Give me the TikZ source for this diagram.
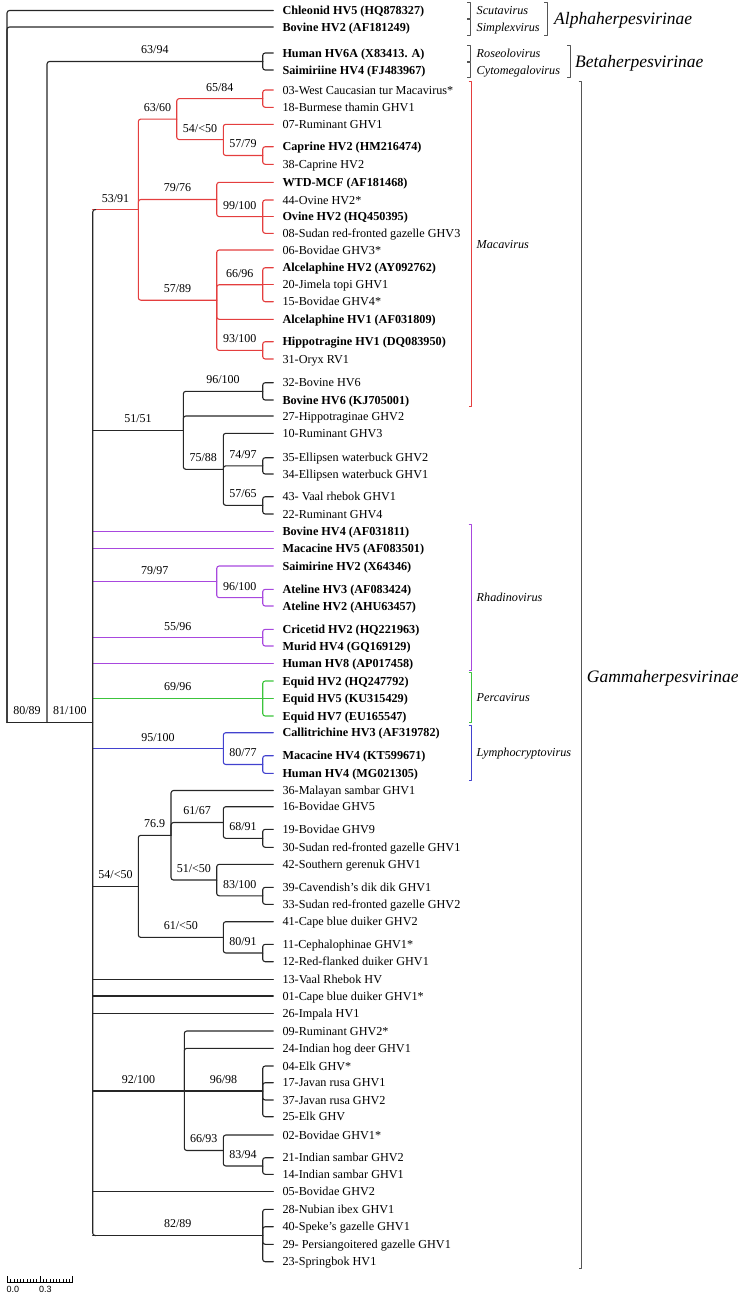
\documentclass[tikz,border=0pt]{standalone}
\usepackage{fontspec}
\setmainfont{Liberation Serif}
\setsansfont{Liberation Sans}
\usetikzlibrary{calc}
\tikzset{>=latex}
\definecolor{macred}{RGB}{228,62,62}
\definecolor{rhapurple}{RGB}{168,72,222}
\definecolor{pergreen}{RGB}{60,196,60}
\definecolor{lymblue}{RGB}{66,66,206}
\definecolor{brgray}{RGB}{85,85,85}
\tikzset{
  branch/.style={line width=1.1pt, rounded corners=2.5pt, line cap=round, black!85},
  taxon/.style={anchor=west, inner xsep=9pt, inner ysep=0pt, text height=8pt, text depth=0pt,
    font=\fontsize{12.2}{14}\selectfont},
  taxonb/.style={taxon, font=\fontsize{12.2}{14}\selectfont\bfseries},
  boot/.style={anchor=south, inner sep=0pt, text height=8pt, text depth=0pt, yshift=7pt,
    font=\fontsize{12}{14}\selectfont, black},
  genus/.style={anchor=west, inner sep=0pt, text height=8pt, text depth=0pt,
    font=\fontsize{12.2}{14}\selectfont\itshape},
  family/.style={anchor=west, inner sep=0pt, text height=12pt, text depth=0pt,
    font=\fontsize{17.5}{20}\selectfont\itshape},
}

\begin{document}
\begin{tikzpicture}[x=1pt, y=-1pt, line join=round]
    \useasboundingbox (0,0) rectangle (738,1304);

    \foreach \nm/\y/\txt in {chl/10.5/{Chleonid HV5 (HQ878327)}, bov2/27/{Bovine HV2 (AF181249)},
        hum6/53/{Human HV6A (X83413. A)}, sai4/70/{Saimiriine HV4 (FJ483967)},
        cap2/146.7/{Caprine HV2 (HM216474)}, wtd/182.3/{WTD-MCF (AF181468)},
        ovi2/216.6/{Ovine HV2 (HQ450395)}, alc2/267.7/{Alcelaphine HV2 (AY092762)},
        alc1/319.3/{Alcelaphine HV1 (AF031809)}, hip1/341.7/{Hippotragine HV1 (DQ083950)},
        bov6/400/{Bovine HV6 (KJ705001)}, bov4/531.7/{Bovine HV4 (AF031811)},
        mac5/548.3/{Macacine HV5 (AF083501)}, sai2/566/{Saimirine HV2 (X64346)},
        ate3/589.3/{Ateline HV3 (AF083424)}, ate2/606/{Ateline HV2 (AHU63457)},
        cri2/629.3/{Cricetid HV2 (HQ221963)}, mur4/646/{Murid HV4 (GQ169129)},
        hum8/663.3/{Human HV8 (AP017458)}, equ2/681/{Equid HV2 (HQ247792)},
        equ5/698.5/{Equid HV5 (KU315429)}, equ7/716/{Equid HV7 (EU165547)},
        cal3/732.7/{Callitrichine HV3 (AF319782)}, mac4/755.7/{Macacine HV4 (KT599671)},
        hum4/773.3/{Human HV4 (MG021305)}}{
        \node[taxonb] (\nm) at (273.3,\y) {\txt};
    }
    \foreach \nm/\y/\txt in {t03/90/{03-West Caucasian tur Macavirus*}, t18/107.3/{18-Burmese thamin GHV1},
        t07/124.3/{07-Ruminant GHV1}, t38/164.3/{38-Caprine HV2}, t44/200/{44-Ovine HV2*},
        t08/233.3/{08-Sudan red-fronted gazelle GHV3}, t06/250/{06-Bovidae GHV3*},
        t20/284.7/{20-Jimela topi GHV1}, t15/301.7/{15-Bovidae GHV4*}, t31/359/{31-Oryx RV1},
        t32/382.7/{32-Bovine HV6}, t27/416/{27-Hippotraginae GHV2}, t10/433.3/{10-Ruminant GHV3},
        t35/457.7/{35-Ellipsen waterbuck GHV2}, t34/474/{34-Ellipsen waterbuck GHV1},
        t43/496.7/{43- Vaal rhebok GHV1}, t22/514/{22-Ruminant GHV4},
        t36/790.5/{36-Malayan sambar GHV1}, t16/806.7/{16-Bovidae GHV5}, t19/829.3/{19-Bovidae GHV9},
        t30/847.3/{30-Sudan red-fronted gazelle GHV1}, t42/864.3/{42-Southern gerenuk GHV1},
        t39/887.3/{39-Cavendish's dik dik GHV1}, t33/904.3/{33-Sudan red-fronted gazelle GHV2},
        t41/921.7/{41-Cape blue duiker GHV2}, t11/944.3/{11-Cephalophinae GHV1*},
        t12/961.7/{12-Red-flanked duiker GHV1}, t13/979.3/{13-Vaal Rhebok HV},
        t01/996/{01-Cape blue duiker GHV1*}, t26/1013.3/{26-Impala HV1}, t09/1031/{09-Ruminant GHV2*},
        t24/1048.3/{24-Indian hog deer GHV1}, t04/1066/{04-Elk GHV*}, t17/1082.7/{17-Javan rusa GHV1},
        t37/1100/{37-Javan rusa GHV2}, t25/1116.7/{25-Elk GHV}, t02/1135/{02-Bovidae GHV1*},
        t21/1157.7/{21-Indian sambar GHV2}, t14/1174.3/{14-Indian sambar GHV1}, t05/1191.7/{05-Bovidae GHV2},
        t28/1209.3/{28-Nubian ibex GHV1}, t40/1226.7/{40-Speke's gazelle GHV1},
        t29/1244.3/{29- Persiangoitered gazelle GHV1}, t23/1261.7/{23-Springbok HV1}}{
        \node[taxon] (\nm) at (273.3,\y) {\txt};
    }

    \coordinate (root) at (7,722.5);
    \coordinate (n1) at (47,722.5);
    \coordinate (gam) at (92.7,722.5);
    \coordinate (beta) at (262.7,61.5);
    \coordinate (mac) at (138.3,209.6);
    \coordinate (n6360) at (176.7,119.1);
    \coordinate (n6584) at (262.7,98.65);
    \coordinate (n5450) at (223.3,139.6);
    \coordinate (n5779) at (262.7,155.5);
    \coordinate (n7976) at (216.7,199.5);
    \coordinate (n99100) at (262.7,216.6);
    \coordinate (n5789) at (216.7,300.2);
    \coordinate (n6696) at (262.7,284.7);
    \coordinate (n93100) at (262.7,350.35);
    \coordinate (n5151) at (183.3,430.3);
    \coordinate (n96100) at (262.7,391.35);
    \coordinate (n7588) at (223.3,469.3);
    \coordinate (n7497) at (262.7,465.85);
    \coordinate (n5765) at (262.7,505.35);
    \coordinate (n7997) at (216.7,581.8);
    \coordinate (n9610p) at (262.7,597.65);
    \coordinate (n5596) at (262.7,637.65);
    \coordinate (n6996) at (262.7,698.5);
    \coordinate (n95100) at (223.3,748.6);
    \coordinate (n8077) at (262.7,764.5);
    \coordinate (n54b) at (138.3,886.3);
    \coordinate (n769) at (171,835.3);
    \coordinate (n6167) at (223.3,822.5);
    \coordinate (n6891) at (262.7,838.3);
    \coordinate (n5150) at (216.7,880);
    \coordinate (n83100) at (262.7,895.8);
    \coordinate (n6150) at (223.3,937.4);
    \coordinate (n8091) at (262.7,953);
    \coordinate (n92100) at (184.3,1091);
    \coordinate (n9698) at (262.7,1091);
    \coordinate (n6693) at (223.3,1150.5);
    \coordinate (n8394) at (262.7,1166);
    \coordinate (n8289) at (262.7,1235.5);

    % outgroups and Betaherpesvirinae
    \draw[branch] (root) |- (chl.west);
    \draw[branch] (root) |- (bov2.west);
    \draw[branch] (root) -- node[boot, midway] {80/89} (n1);
    \draw[branch] (n1) |- node[boot, pos=0.75] {63/94} (beta);
    \draw[branch] (n1) -- node[boot, midway] {81/100} (gam);
    \foreach \c in {hum6,sai4} \draw[branch] (beta) |- (\c.west);

    % Gammaherpesvirinae
    \draw[branch, macred] (gam |- mac) -- node[boot, midway] {53/91} (mac);
    \draw[branch] (gam |- n5151) -- node[boot, midway] {51/51} (n5151);
    \foreach \c in {bov4,mac5,hum8} \draw[branch, rhapurple] (gam |- \c.west) -- (\c.west);
    \draw[branch, rhapurple] (gam |- n7997) -- node[boot, midway] {79/97} (n7997);
    \draw[branch, rhapurple] (gam |- n5596) -- node[boot, midway] {55/96} (n5596);
    \draw[branch, pergreen] (gam |- n6996) -- node[boot, midway] {69/96} (n6996);
    \draw[branch, lymblue] (gam |- n95100) -- node[boot, midway] {95/100} (n95100);
    \draw[branch] (gam |- n54b) -- node[boot, midway] {54/<50} (n54b);
    \foreach \c in {t13,t01,t26,t05} \draw[branch] (gam |- \c.west) -- (\c.west);
    \draw[branch] (gam |- n92100) -- node[boot, midway] {92/100} (n92100);
    \draw[branch] (gam |- n8289) -- node[boot, midway] {82/89} (n8289);
    \draw[branch] ($(mac -| gam)+(3,0)$) -| (gam) |- ($(n8289 -| gam)+(3,0)$);

    % Macavirus
    \draw[branch, macred] (mac) |- node[boot, pos=0.75] {63/60} (n6360);
    \draw[branch, macred] (mac) |- node[boot, pos=0.75] {79/76} (n7976);
    \draw[branch, macred] (mac) |- node[boot, pos=0.75] {57/89} (n5789);
    \draw[branch, macred] (n6360) |- node[boot, pos=0.75] {65/84} (n6584);
    \draw[branch, macred] (n6360) |- node[boot, pos=0.75] {54/<50} (n5450);
    \foreach \c in {t03,t18} \draw[branch, macred] (n6584) |- (\c.west);
    \draw[branch, macred] (n5450) |- (t07.west);
    \draw[branch, macred] (n5450) |- node[boot, pos=0.75] {57/79} (n5779);
    \foreach \c in {cap2,t38} \draw[branch, macred] (n5779) |- (\c.west);
    \draw[branch, macred] (n7976) |- (wtd.west);
    \draw[branch, macred] (n7976) |- node[boot, pos=0.75] {99/100} (n99100);
    \foreach \c in {t44,t08} \draw[branch, macred] (n99100) |- (\c.west);
    \draw[branch, macred] (n99100) -- (ovi2.west);
    \foreach \c in {t06,alc1} \draw[branch, macred] (n5789) |- (\c.west);
    \draw[branch, macred] (n5789) |- node[boot, pos=0.75] {66/96} (n6696);
    \draw[branch, macred] (n5789) |- node[boot, pos=0.75] {93/100} (n93100);
    \foreach \c in {alc2,t15} \draw[branch, macred] (n6696) |- (\c.west);
    \draw[branch, macred] (n6696) -- (t20.west);
    \foreach \c in {hip1,t31} \draw[branch, macred] (n93100) |- (\c.west);

    \draw[branch] (n5151) |- node[boot, pos=0.75] {96/100} (n96100);
    \draw[branch] (n5151) |- (t27.west);
    \draw[branch] (n5151) |- node[boot, pos=0.75] {75/88} (n7588);
    \foreach \c in {t32,bov6} \draw[branch] (n96100) |- (\c.west);
    \draw[branch] (n7588) |- (t10.west);
    \draw[branch] (n7588) |- node[boot, pos=0.75] {74/97} (n7497);
    \draw[branch] (n7588) |- node[boot, pos=0.75] {57/65} (n5765);
    \foreach \c in {t35,t34} \draw[branch] (n7497) |- (\c.west);
    \foreach \c in {t43,t22} \draw[branch] (n5765) |- (\c.west);

    % Rhadinovirus, Percavirus, Lymphocryptovirus
    \draw[branch, rhapurple] (n7997) |- (sai2.west);
    \draw[branch, rhapurple] (n7997) |- node[boot, pos=0.75] {96/100} (n9610p);
    \foreach \c in {ate3,ate2} \draw[branch, rhapurple] (n9610p) |- (\c.west);
    \foreach \c in {cri2,mur4} \draw[branch, rhapurple] (n5596) |- (\c.west);
    \foreach \c in {equ2,equ7} \draw[branch, pergreen] (n6996) |- (\c.west);
    \draw[branch, pergreen] (n6996) -- (equ5.west);
    \draw[branch, lymblue] (n95100) |- (cal3.west);
    \draw[branch, lymblue] (n95100) |- node[boot, pos=0.75] {80/77} (n8077);
    \foreach \c in {mac4,hum4} \draw[branch, lymblue] (n8077) |- (\c.west);

    \draw[branch] (n54b) |- node[boot, pos=0.75] {76.9} (n769);
    \draw[branch] (n54b) |- node[boot, pos=0.75] {61/<50} (n6150);
    \draw[branch] (n769) |- (t36.west);
    \draw[branch] (n769) |- node[boot, pos=0.75] {61/67} (n6167);
    \draw[branch] (n769) |- node[boot, pos=0.75] {51/<50} (n5150);
    \draw[branch] (n6167) |- (t16.west);
    \draw[branch] (n6167) |- node[boot, pos=0.75] {68/91} (n6891);
    \foreach \c in {t19,t30} \draw[branch] (n6891) |- (\c.west);
    \draw[branch] (n5150) |- (t42.west);
    \draw[branch] (n5150) |- node[boot, pos=0.75] {83/100} (n83100);
    \foreach \c in {t39,t33} \draw[branch] (n83100) |- (\c.west);
    \draw[branch] (n6150) |- (t41.west);
    \draw[branch] (n6150) |- node[boot, pos=0.75] {80/91} (n8091);
    \foreach \c in {t11,t12} \draw[branch] (n8091) |- (\c.west);
    \foreach \c in {t09,t24} \draw[branch] (n92100) |- (\c.west);
    \draw[branch] (n92100) -- node[boot, midway] {96/98} (n9698);
    \draw[branch] (n92100) |- node[boot, pos=0.75] {66/93} (n6693);
    \foreach \c in {t04,t17,t37,t25} \draw[branch] (n9698) |- (\c.west);
    \draw[branch] (n6693) |- (t02.west);
    \draw[branch] (n6693) |- node[boot, pos=0.75] {83/94} (n8394);
    \foreach \c in {t21,t14} \draw[branch] (n8394) |- (\c.west);
    \foreach \c in {t28,t40,t29,t23} \draw[branch] (n8289) |- (\c.west);

    % brackets
    \foreach \x/\ya/\yb/\col in {470/2.5/18.5/brgray, 470/19.5/35/brgray, 470/45/61/brgray,
        470/62/77/brgray, 547/2.5/35/brgray, 570/45/77/brgray, 471.7/81.7/406.7/macred,
        471.7/524/670/rhapurple, 471.7/672.7/722.7/pergreen, 471.7/725/780/lymblue,
        581.7/81.7/1268.3/brgray}{
        \draw[\col, line width=0.9pt] (\x-3,\ya) -- (\x,\ya) -- (\x,\yb) -- (\x-3,\yb);
    }
    \node[genus] (scu) at (476.5,10.5) {Scutavirus};
    \node[genus] (sim) at (476.5,27) {Simplexvirus};
    \node[genus] (ros) at (476.5,53) {Roseolovirus};
    \node[genus] (cyt) at (476.5,70) {Cytomegalovirus};
    \node[genus] (macg) at (476.5,244.2) {Macavirus};
    \node[genus] (rha) at (476.5,597) {Rhadinovirus};
    \node[genus] (per) at (476.5,697.7) {Percavirus};
    \node[genus] (lym) at (476.5,752.5) {Lymphocryptovirus};
    \node[family] (alpha) at (554,18.5) {Alphaherpesvirinae};
    \node[family] (betaf) at (575,61) {Betaherpesvirinae};
    \node[family] (gammaf) at (586.7,676) {Gammaherpesvirinae};

    % scale bar
    \draw[line width=0.6pt] (7.3,1282.7) -- (72.7,1282.7);
    \foreach \i [evaluate=\i as \h using {ifthenelse(mod(\i,10)==0,7,3.5)}] in {0,...,20}
        \draw[line width=0.5pt] (7.3+\i*3.27,1282.7) -- ++(0,-\h);
    \node[anchor=north west, inner sep=0pt, font=\sffamily\fontsize{9}{10}\selectfont] (s0) at (6.5,1286) {0.0};
    \node[anchor=north west, inner sep=0pt, font=\sffamily\fontsize{9}{10}\selectfont] (s3) at (38.8,1286) {0.3};
\end{tikzpicture}
\end{document}
